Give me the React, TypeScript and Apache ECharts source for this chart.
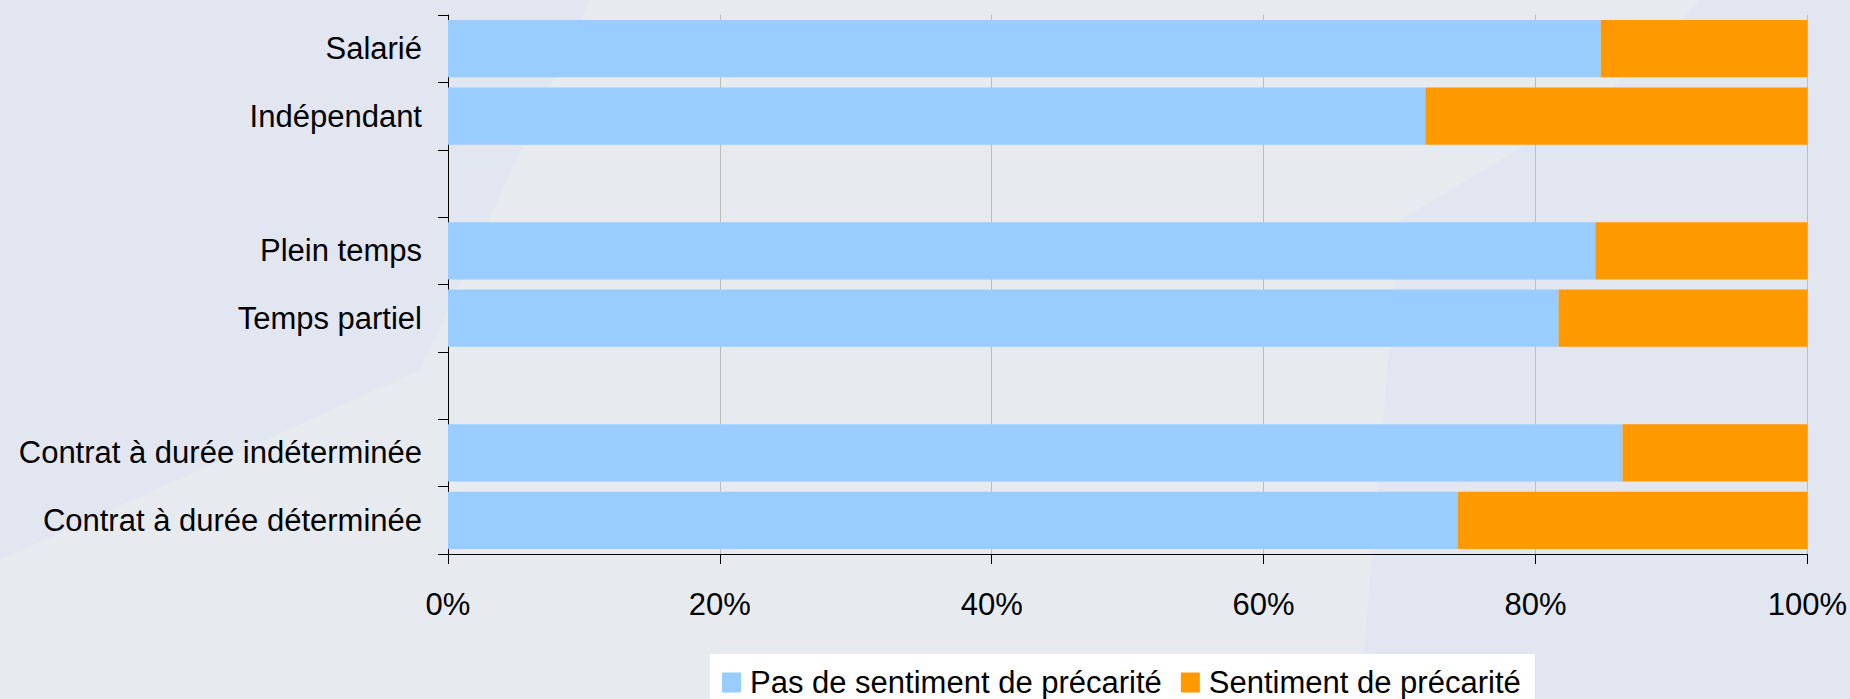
import React, { useEffect, useRef } from "react";
import * as echarts from "echarts";

const categories = [
  "Salarié",
  "Indépendant",
  "",
  "Plein temps",
  "Temps partiel",
  "",
  "Contrat à durée indéterminée",
  "Contrat à durée déterminée",
];
const noPrecarity = [84.8, 71.9, null, 84.4, 81.7, null, 86.4, 74.3];
const precarity = [15.2, 28.1, null, 15.6, 18.3, null, 13.6, 25.7];
const seriesNames = ["Pas de sentiment de précarité", "Sentiment de précarité"];
const xTicks = [0, 20, 40, 60, 80, 100];

const FONT = "'Liberation Sans', Arial, Helvetica, sans-serif";

export default function App() {
  const ref = useRef<HTMLDivElement>(null);
  useEffect(() => {
    if (!ref.current) return;
    const chart = echarts.init(ref.current, null, { renderer: "svg" });
    chart.setOption({
      animation: false,
      backgroundColor: "#e1e6f1",
      textStyle: { fontFamily: FONT },
      graphic: [
        {
          type: "polygon",
          z: -10,
          silent: true,
          shape: {
            points: [
              [590, 0],
              [1700, 0],
              [1600, 100],
              [1400, 220],
              [1360, 699],
              [0, 699],
              [0, 560],
              [420, 370],
            ],
          },
          style: { fill: "#e7ebef" },
        },
      ],
      grid: { left: 448, right: 42, top: 15, bottom: 145, containLabel: false },
      legend: {
        data: seriesNames,
        left: 710,
        top: 654,
        padding: [13, 14, 16, 12],
        backgroundColor: "#ffffff",
        icon: "rect",
        itemWidth: 19,
        itemHeight: 20,
        itemGap: 19,
        textStyle: { fontSize: 31, color: "#000", fontFamily: FONT, padding: [0, 0, 0, 4] },
      },
      xAxis: {
        type: "value",
        min: xTicks[0],
        max: xTicks[xTicks.length - 1],
        interval: 20,
        axisLine: { show: true, lineStyle: { color: "#000", width: 1 } },
        axisTick: { show: true, length: 10, lineStyle: { color: "#000" } },
        axisLabel: {
          formatter: "{value}%",
          fontSize: 31,
          color: "#000",
          fontFamily: FONT,
          margin: 35,
        },
        splitLine: { show: true, lineStyle: { color: "#bdbdbd", width: 1 } },
      },
      yAxis: {
        type: "category",
        data: categories,
        inverse: true,
        axisLine: { show: true, lineStyle: { color: "#000", width: 1 } },
        axisTick: { show: true, length: 10, lineStyle: { color: "#000" } },
        axisLabel: { fontSize: 31, color: "#000", fontFamily: FONT, margin: 26 },
        splitLine: { show: false },
      },
      series: [
        {
          name: seriesNames[0],
          type: "bar",
          stack: "total",
          data: noPrecarity,
          barCategoryGap: "15%",
          itemStyle: { color: "#99ccff" },
        },
        {
          name: seriesNames[1],
          type: "bar",
          stack: "total",
          data: precarity,
          barCategoryGap: "15%",
          itemStyle: { color: "#ff9900" },
        },
      ],
    });
    return () => chart.dispose();
  }, []);
  return (
    <div
      ref={ref}
      style={{ position: "fixed", left: 0, top: 0, width: 1850, height: 699 }}
    />
  );
}
